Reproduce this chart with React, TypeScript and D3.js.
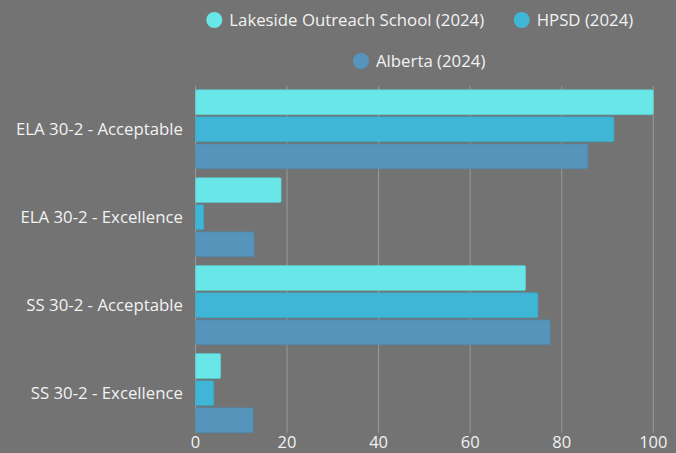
import React, { useEffect, useRef } from 'react';
import * as d3 from 'd3';

const categories = ['ELA 30-2 - Acceptable', 'ELA 30-2 - Excellence', 'SS 30-2 - Acceptable', 'SS 30-2 - Excellence'];
const seriesNames = ['Lakeside Outreach School (2024)', 'HPSD (2024)', 'Alberta (2024)'];
const lakeside = [100, 18.7, 72.1, 5.5];
const hpsd = [91.4, 1.8, 74.8, 4.0];
const alberta = [85.7, 12.8, 77.5, 12.6];
const xTicks = [0, 20, 40, 60, 80, 100];

const colors = ['#68e6e8', '#3fb6d5', '#5694bb'];

const App = () => {
  const ref = useRef<SVGSVGElement | null>(null);

  useEffect(() => {
    const width = 676, height = 453;
    const svg = d3.select(ref.current);
    svg.selectAll('*').remove();
    const font = "'Open Sans', sans-serif";

    svg.append('rect').attr('width', width).attr('height', height).attr('fill', '#737373');

    const x = d3.scaleLinear().domain([0, 100]).range([195.5, 653.3]);
    const y = d3.scaleBand<string>().domain(categories).range([89.7, 432.7]).paddingInner(0.1).paddingOuter(0);
    const ySub = d3.scaleBand<number>().domain([0, 1, 2]).range([0, y.bandwidth()]).paddingInner(0.08);

    // grid lines
    svg.append('g')
      .selectAll('line')
      .data(xTicks)
      .join('line')
      .attr('x1', d => x(d)).attr('x2', d => x(d))
      .attr('y1', 86).attr('y2', 432.7)
      .attr('stroke', '#9a9a9a')
      .attr('stroke-width', 1);

    const table = categories.map((c, i) => ({ cat: c, vals: [lakeside[i], hpsd[i], alberta[i]] }));

    const groups = svg.append('g')
      .selectAll('g')
      .data(table)
      .join('g')
      .attr('transform', d => `translate(0,${y(d.cat)})`);

    groups.selectAll('rect')
      .data(d => d.vals.map((v, k) => ({ v, k })))
      .join('rect')
      .attr('x', x(0))
      .attr('y', d => ySub(d.k)!)
      .attr('width', d => x(d.v) - x(0))
      .attr('height', ySub.bandwidth())
      .attr('rx', 1.5)
      .attr('fill', d => colors[d.k])
      .attr('stroke', d => d3.color(colors[d.k])!.darker(0.3).formatHex())
      .attr('stroke-width', 0.6);

    // category labels
    svg.append('g')
      .selectAll('text')
      .data(categories)
      .join('text')
      .attr('x', 183)
      .attr('y', d => y(d)! + y.bandwidth() / 2)
      .attr('dy', '0.35em')
      .attr('text-anchor', 'end')
      .attr('fill', '#f2f2f2')
      .style('font-family', font)
      .style('font-size', '16.8px')
      .text(d => d);

    // x tick labels, pushed up just enough to stay inside the frame
    svg.append('g')
      .selectAll('text')
      .data(xTicks)
      .join('text')
      .attr('x', d => x(d))
      .attr('y', 448)
      .attr('text-anchor', 'middle')
      .attr('fill', '#f2f2f2')
      .style('font-family', font)
      .style('font-size', '16.5px')
      .text(d => d);

    // legend
    const legendPos = [
      { cx: 214.3, cy: 20 },
      { cx: 521.7, cy: 20 },
      { cx: 361, cy: 61 },
    ];
    const legend = svg.append('g')
      .selectAll('g')
      .data(seriesNames)
      .join('g')
      .attr('transform', (d, i) => `translate(${legendPos[i].cx},${legendPos[i].cy})`);
    legend.append('circle').attr('r', 8).attr('fill', (d, i) => colors[i]);
    legend.append('text')
      .attr('x', 15)
      .attr('dy', '0.35em')
      .attr('fill', '#f2f2f2')
      .style('font-family', font)
      .style('font-size', '16.8px')
      .text(d => d);
  }, []);

  return (
    <svg ref={ref} width={676} height={453}
      style={{ position: 'absolute', left: 0, top: 0, display: 'block' }} />
  );
};

export default App;
